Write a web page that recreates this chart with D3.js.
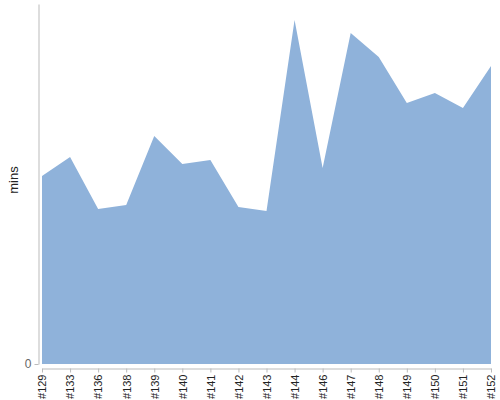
<!DOCTYPE html>
<meta charset="utf-8">
<style>
body { margin: 0; background: #fff; }
text { font-family: "Liberation Sans", Arial, sans-serif; }
</style>
<svg width="500" height="400"></svg>
<script src="https://d3js.org/d3.v7.min.js"></script>
<script>

var builds = ["#129","#133","#136","#138","#139","#140","#141","#142","#143",
              "#144","#146","#147","#148","#149","#150","#151","#152"];
var mins = [188, 207, 155, 159, 228, 200, 204, 157, 153,
            344, 196, 331, 307, 261, 271, 256, 298];
var yTicks = [0];

var svg = d3.select("svg");

var x = d3.scalePoint().domain(builds).range([42, 491]);
var y = d3.scaleLinear().domain([0, 360]).range([364, 4]);

var area = d3.area()
    .x(function(d, i) { return x(builds[i]); })
    .y0(y(0))
    .y1(function(d) { return y(d); });

svg.append("path")
    .datum(mins)
    .attr("fill", "#8fb2da")
    .attr("d", area);

// y axis
var gy = svg.append("g")
    .attr("transform", "translate(38.5,0)")
    .call(d3.axisLeft(y).tickValues(yTicks).tickSize(4).tickSizeOuter(0));
gy.select(".domain").attr("stroke", "#bbb");
gy.selectAll(".tick line").attr("stroke", "#bbb");
gy.selectAll(".tick text").attr("fill", "#666").attr("font-size", 12)
    .attr("font-family", "Liberation Sans, Arial, sans-serif");

// x axis
var gx = svg.append("g")
    .attr("transform", "translate(0,368.5)")
    .call(d3.axisBottom(x).tickSize(4).tickSizeOuter(0));
gx.select(".domain").attr("stroke", "#bbb");
gx.selectAll(".tick line").attr("stroke", "#bbb");
gx.selectAll(".tick text")
    .attr("fill", "#222")
    .attr("font-size", 11)
    .attr("font-family", "Liberation Sans, Arial, sans-serif")
    .attr("text-anchor", "end")
    .attr("transform", "rotate(-90)")
    .attr("x", -6)
    .attr("y", 0)
    .attr("dy", "0.35em");

svg.append("text")
    .attr("transform", "translate(18,180) rotate(-90)")
    .attr("text-anchor", "middle")
    .attr("font-size", 13)
    .attr("fill", "#222")
    .text("mins");

</script>
